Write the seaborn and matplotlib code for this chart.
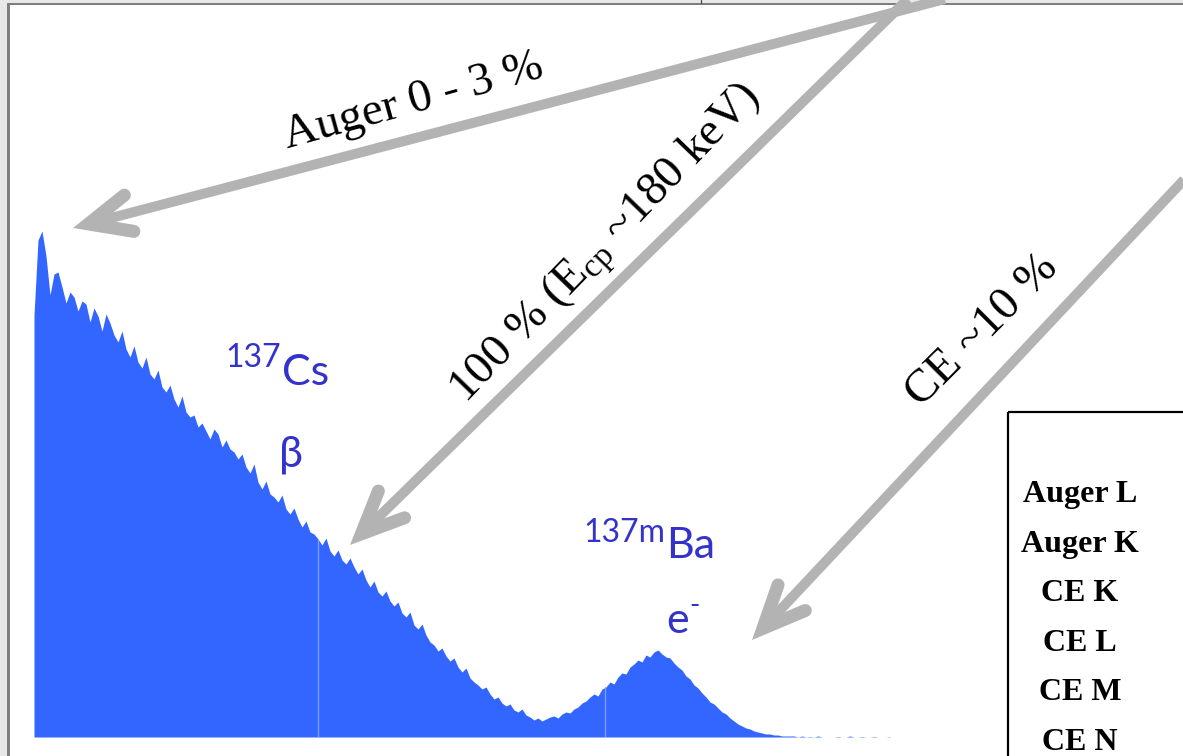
import numpy as np
import pandas as pd
import matplotlib
matplotlib.use("Agg")
import matplotlib.pyplot as plt
from matplotlib.patches import Rectangle
import seaborn as sns

# ---- spectrum data: 4 keV channels, counts per channel ----
energy_kev = np.arange(0, 860, 4)
counts = [
    844, 994, 1012, 962, 884, 926, 930, 900, 868, 890,
    880, 852, 872, 866, 830, 858, 842, 812, 846, 828,
    804, 790, 812, 776, 760, 782, 750, 738, 760, 726,
    716, 734, 700, 690, 704, 676, 660, 682, 650, 640,
    644, 620, 628, 612, 596, 616, 606, 580, 594, 576,
    570, 556, 566, 540, 528, 546, 510, 496, 512, 486,
    480, 470, 484, 456, 446, 458, 436, 420, 432, 410,
    406, 396, 384, 398, 372, 362, 374, 354, 346, 358,
    340, 326, 336, 314, 300, 312, 290, 282, 292, 272,
    262, 270, 248, 240, 250, 224, 216, 226, 204, 190,
    184, 172, 178, 162, 152, 158, 140, 130, 138, 118,
    110, 104, 96, 100, 86, 76, 80, 68, 62, 66,
    54, 50, 56, 44, 40, 34, 38, 32, 36, 40,
    42, 38, 46, 50, 48, 56, 60, 68, 72, 80,
    86, 82, 96, 100, 110, 106, 120, 128, 126, 140,
    146, 154, 150, 164, 160, 170, 174, 166, 160, 158,
    148, 140, 134, 122, 116, 104, 98, 88, 80, 70,
    66, 58, 50, 46, 38, 32, 26, 22, 18, 16,
    12, 10, 8, 6, 6, 4, 4, 2, 2, 2,
    2, 0, 2, 0, 1, 0, 2, 0, 0, 0,
    0, 1, 0, 0, 2, 0, 0, 1, 0, 0, 1, 0, 0, 0, 1,
]

# ---- annotation texts ----
arrow_labels = ["Auger 0 - 3 %",
                r"100 % ($\mathrm{E}_{\mathrm{cp}}$ ~180 keV)",
                "CE ~10 %"]
legend_labels = ["Auger L", "Auger K", "CE K", "CE L", "CE M", "CE N"]

W, H, DPI = 1183, 756, 100
PT = 72.0 / DPI  # points per pixel

sns.set_theme(style="white")
plt.rcParams["font.family"] = ["Liberation Serif", "DejaVu Serif"]
plt.rcParams["mathtext.fontset"] = "custom"
plt.rcParams["mathtext.rm"] = "Liberation Serif"
plt.rcParams["mathtext.it"] = "Liberation Serif:italic"

fig = plt.figure(figsize=(W / DPI, H / DPI), dpi=DPI)
fig.patch.set_facecolor("white")

# ---- spectrum axes ----
spectrum = pd.DataFrame({"energy": energy_kev, "counts": counts})
ax = fig.add_axes([34 / W, 19 / H, 966 / W, 732 / H])
sns.histplot(data=spectrum, x="energy", weights="counts", binwidth=4,
             binrange=(-2, 858), element="poly", fill=True,
             color="#3366ff", alpha=1.0, linewidth=0, ax=ax)
ax.set_xlim(0, 966)
ax.set_ylim(0, 1464)
ax.set_xticks([284, 571])
ax.grid(axis="x", color="#7a9cff", linewidth=1.0)
ax.grid(axis="y", visible=False)
ax.set_axisbelow(False)
fill = ax.collections[0]
for gl in ax.get_xgridlines():
    gl.set_clip_path(fill.get_paths()[0], fill.get_transform())
    gl.set_zorder(3)
ax.set_xlabel("")
ax.set_ylabel("")
ax.tick_params(left=False, bottom=False, labelleft=False, labelbottom=False)
for s in ax.spines.values():
    s.set_visible(False)
ax.patch.set_alpha(0)

# ---- overlay in pixel coordinates for arrows, labels and frame ----
ov = fig.add_axes([0, 0, 1, 1], zorder=5)
ov.set_xlim(0, W)
ov.set_ylim(H, 0)
ov.axis("off")
ov.patch.set_alpha(0)

# window frame
ov.add_patch(Rectangle((0, 0), 8, H, color="#e8e8e8", lw=0))
ov.add_patch(Rectangle((0, 0), W, 2.5, color="#e8e8e8", lw=0))
ov.add_patch(Rectangle((7.5, 2.5), 2.2, H, color="#7f7f7f", lw=0))
ov.add_patch(Rectangle((7.5, 2.5), W, 2.2, color="#7f7f7f", lw=0))
ov.plot([701, 701], [0, 3], color="#444444", lw=1.2 * PT)

GREY = "#b3b3b3"


def draw_arrow(tail, tip, spread=24, arm=46, shaft_px=10, head_px=13):
    tx, ty = tip
    dx, dy = tail[0] - tx, tail[1] - ty
    ang = np.arctan2(dy, dx)
    inset = (head_px / 2) / np.sin(np.radians(spread))
    vx, vy = tx + inset * np.cos(ang), ty + inset * np.sin(ang)
    ov.plot([tail[0], vx], [tail[1], vy], color=GREY, lw=shaft_px * PT,
            solid_capstyle="butt")
    a1, a2 = ang + np.radians(spread), ang - np.radians(spread)
    xs = [vx + arm * np.cos(a1), vx, vx + arm * np.cos(a2)]
    ys = [vy + arm * np.sin(a1), vy, vy + arm * np.sin(a2)]
    ov.plot(xs, ys, color=GREY, lw=head_px * PT, solid_capstyle="round",
            solid_joinstyle="miter")


draw_arrow((960, -5), (73, 228))
draw_arrow((912, -5), (350, 545))
draw_arrow((1195, 168), (752, 640))

serif = ["Liberation Serif", "DejaVu Serif"]
ov.text(287, 148, arrow_labels[0], rotation=15.5, rotation_mode="anchor",
        ha="left", va="baseline", fontsize=34, family=serif, color="black")
ov.text(466, 404, arrow_labels[1], rotation=46, rotation_mode="anchor",
        ha="left", va="baseline", fontsize=34, family=serif, color="black")
ov.text(921, 408, arrow_labels[2], rotation=45, rotation_mode="anchor",
        ha="left", va="baseline", fontsize=34, family=serif, color="black")

# isotope labels
BLUE = "#3333cc"
sans = ["Lato", "DejaVu Sans"]
ov.text(281, 367, "137", fontsize=23, color=BLUE, family=sans, ha="right", va="baseline")
ov.text(282, 385, "Cs", fontsize=31, color=BLUE, family=sans, ha="left", va="baseline")
ov.text(291, 466, "β", fontsize=31, color=BLUE, family=sans, ha="center", va="baseline")
ov.text(665, 542, "137m", fontsize=23, color=BLUE, family=sans, ha="right", va="baseline")
ov.text(666, 558, "Ba", fontsize=31, color=BLUE, family=sans, ha="left", va="baseline")
ov.text(666, 633, "e", fontsize=31, color=BLUE, family=sans, ha="left", va="baseline")
ov.text(689, 614, "-", fontsize=20, color=BLUE, family=sans, ha="left", va="baseline")

# legend box
ov.add_patch(Rectangle((1008, 412), 300, 500, fill=False, edgecolor="black",
                       lw=2.2 * PT, clip_on=False))
for i, lab in enumerate(legend_labels):
    ov.text(1080, 502 + 49.6 * i, lab, fontsize=23, fontweight="bold",
            family=serif, ha="center", va="baseline", color="black")

fig.savefig("out.png", dpi=DPI)
